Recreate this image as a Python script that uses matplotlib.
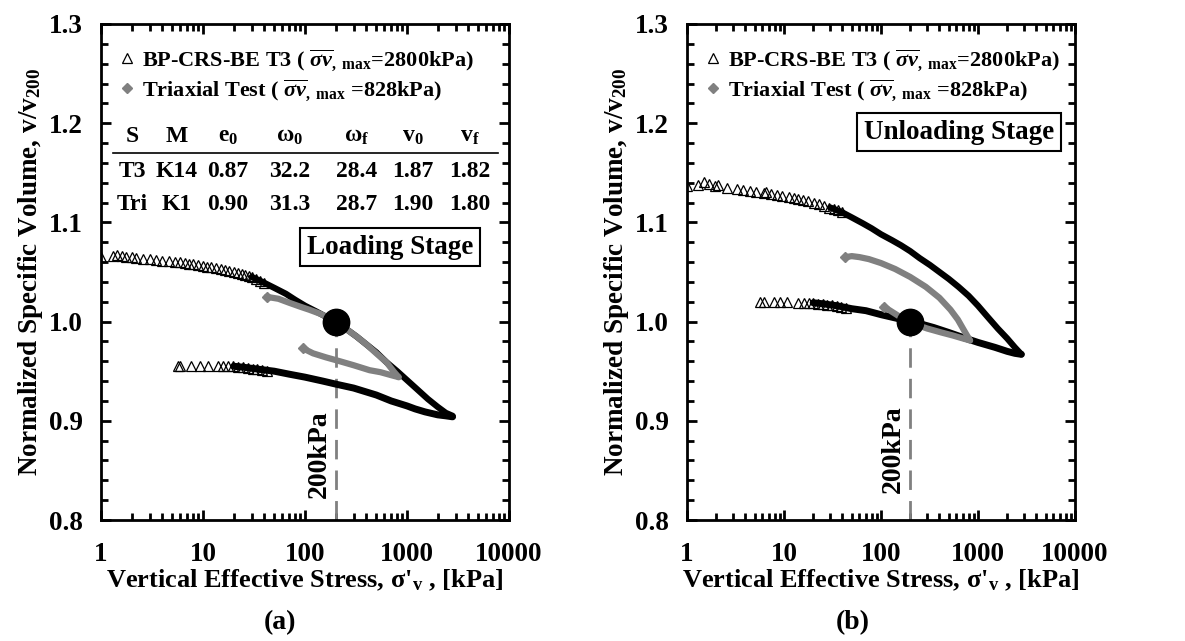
import matplotlib
matplotlib.use("Agg")
import matplotlib.pyplot as plt
from matplotlib.ticker import LogLocator, MultipleLocator, FixedLocator, NullFormatter

plt.rcParams['font.family'] = ['Liberation Serif', 'DejaVu Serif']
plt.rcParams['font.weight'] = 'bold'
plt.rcParams['mathtext.fontset'] = 'custom'
plt.rcParams['mathtext.rm'] = 'Liberation Serif:bold'
plt.rcParams['mathtext.bf'] = 'Liberation Serif:bold'
plt.rcParams['mathtext.it'] = 'Liberation Serif:italic'

# ---- (a) loading stage, normalised by v at 200 kPa on loading ----
a_crs_sparse_up_x = [1.0, 1.3, 1.45, 1.6, 1.75, 2.0, 2.2, 2.6, 3.0, 3.5, 4.0, 4.6, 5.3, 6.0,
                     6.6, 7.3, 8.0, 9.0, 10, 11, 12, 13.5, 15, 16.5, 18, 20, 22, 24, 26, 28, 30,
                     33, 36, 40]
a_crs_sparse_up_y = [1.065, 1.066, 1.067, 1.066, 1.065, 1.065, 1.064, 1.063, 1.063, 1.062, 1.061,
                     1.061, 1.060, 1.060, 1.059, 1.058, 1.058, 1.057, 1.056, 1.055, 1.055, 1.054,
                     1.053, 1.052, 1.051, 1.050, 1.049, 1.048, 1.047, 1.046, 1.045, 1.043,
                     1.041, 1.039]
a_crs_up_x = [30, 40, 50, 65, 80, 100, 130, 160, 200, 250, 320, 400, 500, 630, 800, 1000,
              1250, 1600, 2000, 2400, 2800]
a_crs_up_y = [1.045, 1.039, 1.034, 1.028, 1.022, 1.016, 1.010, 1.005, 1.000, 0.993, 0.985,
              0.977, 0.969, 0.959, 0.950, 0.941, 0.932, 0.922, 0.914, 0.908, 0.905]
a_crs_down_x = [2800, 2400, 2000, 1500, 1200, 1000, 700, 500, 300, 200, 150, 100, 70, 50, 35,
                25, 20]
a_crs_down_y = [0.904, 0.905, 0.906, 0.909, 0.912, 0.915, 0.920, 0.926, 0.933, 0.937, 0.940,
                0.944, 0.947, 0.950, 0.952, 0.954, 0.955]
a_crs_sparse_down_x = [5.7, 6.0, 7.7, 9.4, 11.3, 14.1, 15.7, 17.6, 19.7, 22, 24.7, 27.6, 30.9,
                       34, 38, 42]
a_crs_sparse_down_y = [0.955, 0.955, 0.955, 0.955, 0.955, 0.955, 0.955, 0.955, 0.955, 0.954,
                       0.954, 0.953, 0.952, 0.952, 0.951, 0.950]
a_tri_up_x = [42, 48, 55, 70, 90, 110, 140, 170, 200, 250, 320, 400, 500, 630, 750, 828]
a_tri_up_y = [1.025, 1.024, 1.023, 1.019, 1.015, 1.012, 1.008, 1.004, 1.000, 0.993, 0.985,
              0.977, 0.968, 0.959, 0.949, 0.944]
a_tri_down_x = [828, 700, 550, 430, 300, 220, 160, 120, 100, 96]
a_tri_down_y = [0.944, 0.946, 0.949, 0.951, 0.956, 0.960, 0.964, 0.968, 0.972, 0.973]

# ---- (b) unloading stage, normalised by v at 200 kPa on unloading ----
b_crs_sparse_up_x = [1.0, 1.3, 1.48, 1.67, 1.93, 2.1, 2.6, 3.3, 3.8, 4.5, 5.2, 6.2, 6.6, 7.4,
                     8.5, 9.5, 11.2, 12.6, 14.1, 15.8, 17.8, 20.4, 22.9, 25.7, 28.8, 32.4,
                     36, 40]
b_crs_sparse_up_y = [1.137, 1.138, 1.141, 1.139, 1.137, 1.138, 1.135, 1.134, 1.133, 1.132,
                     1.131, 1.130, 1.131, 1.129, 1.128, 1.127, 1.126, 1.125, 1.124, 1.123,
                     1.122, 1.120, 1.119, 1.117, 1.115, 1.114, 1.112, 1.110]
b_crs_up_x = [30, 40, 50, 65, 80, 100, 130, 160, 200, 250, 320, 400, 500, 630, 800, 1000,
              1250, 1600, 2000, 2400, 2800]
b_crs_up_y = [1.115, 1.110, 1.105, 1.099, 1.094, 1.088, 1.082, 1.077, 1.071, 1.064, 1.057,
              1.050, 1.043, 1.035, 1.026, 1.016, 1.005, 0.993, 0.983, 0.974, 0.967]
b_crs_down_x = [2800, 2400, 2000, 1500, 1000, 700, 500, 350, 250, 200, 150, 100, 70, 50, 35,
                25, 20]
b_crs_down_y = [0.967, 0.968, 0.970, 0.974, 0.979, 0.984, 0.989, 0.994, 0.998, 1.000, 1.003,
                1.007, 1.011, 1.013, 1.016, 1.018, 1.019]
b_crs_sparse_down_x = [5.7, 6.2, 7.8, 9.2, 10.7, 14.1, 15.9, 17.9, 20, 22.5, 25, 28, 31, 35,
                       39, 44]
b_crs_sparse_down_y = [1.020, 1.020, 1.020, 1.020, 1.020, 1.019, 1.019, 1.019, 1.019, 1.018,
                       1.018, 1.017, 1.017, 1.016, 1.015, 1.014]
b_tri_up_x = [43, 50, 60, 75, 100, 140, 200, 290, 400, 520, 620, 700, 760, 828]
b_tri_up_y = [1.065, 1.066, 1.065, 1.063, 1.059, 1.053, 1.045, 1.035, 1.024, 1.012, 1.002,
              0.993, 0.987, 0.981]
b_tri_down_x = [828, 700, 550, 420, 300, 200, 150, 120, 107]
b_tri_down_y = [0.981, 0.983, 0.986, 0.989, 0.993, 0.999, 1.006, 1.012, 1.015]

ref_stress = 200
ref_ratio = 1.0

table_cols = ['S', 'M', 'e$_{\\mathbf{0}}$', 'ω$_{\\mathbf{0}}$', 'ω$_{\\mathbf{f}}$',
              'v$_{\\mathbf{0}}$', 'v$_{\\mathbf{f}}$']
table_rows = [['T3', 'K14', '0.87', '32.2', '28.4', '1.87', '1.82'],
              ['Tri', 'K1', '0.90', '31.3', '28.7', '1.90', '1.80']]

crs_label = r'BP-CRS-BE T3 ( $\overline{\sigma v}_{\mathbf{,\ max}}$=2800kPa)'
tri_label = r'Triaxial Test ( $\overline{\sigma v}_{\mathbf{,\ max}}$ =828kPa)'

gray = '#808080'


def draw_panel(ax, d, stage, letter):
    ax.plot(d['up_x'], d['up_y'], color='black', lw=4.5, solid_capstyle='round', zorder=3)
    ax.plot(d['dn_x'], d['dn_y'], color='black', lw=5, solid_capstyle='round', zorder=3)
    ax.plot(d['sup_x'], d['sup_y'], ls='none', marker='^', ms=6.5, mfc='none', mec='black',
            mew=0.9, label=crs_label, zorder=3)
    ax.plot(d['sdn_x'], d['sdn_y'], ls='none', marker='^', ms=6.5, mfc='none', mec='black',
            mew=0.9, zorder=3)
    ax.plot(d['tu_x'], d['tu_y'], color=gray, lw=4.5, solid_capstyle='round', zorder=4)
    ax.plot(d['td_x'], d['td_y'], color=gray, lw=4.5, solid_capstyle='round', zorder=4)
    ax.plot(d['tu_x'][0], d['tu_y'][0], ls='none', marker='D', ms=5.5, color=gray,
            label=tri_label, zorder=4)
    ax.plot(d['td_x'][-1], d['td_y'][-1], ls='none', marker='D', ms=5.5, color=gray, zorder=4)

    ax.plot([ref_stress, ref_stress], [0.8, ref_ratio], color=gray, lw=2,
            ls=(0, (7, 4)), zorder=2)
    ax.plot(ref_stress, ref_ratio, 'o', color='black', ms=19, zorder=6)
    ax.text(ref_stress * 0.91, d['lab_y'], '200kPa', rotation=90, ha='right', va='center',
            fontsize=20, fontweight='bold')

    ax.set_xscale('log')
    ax.set_xlim(1, 10000)
    ax.set_ylim(0.8, 1.3)
    ax.xaxis.set_major_locator(FixedLocator([1, 10, 100, 1000, 10000]))
    ax.xaxis.set_minor_locator(LogLocator(base=10, subs=range(2, 10), numticks=20))
    ax.xaxis.set_minor_formatter(NullFormatter())
    ax.set_xticklabels(['1', '10', '100', '1000', '10000'])
    ax.yaxis.set_major_locator(MultipleLocator(0.1))
    ax.yaxis.set_minor_locator(MultipleLocator(0.02))
    ax.yaxis.set_major_formatter(plt.FuncFormatter(lambda v, p: f'{v:.1f}'))
    ax.tick_params(which='both', direction='in', top=True, right=True, width=2)
    ax.tick_params(which='major', length=7, labelsize=19.5)
    ax.tick_params(which='minor', length=5)
    ax.tick_params(axis='x', which='major', pad=16)
    ax.tick_params(axis='y', which='major', pad=13)
    for s in ax.spines.values():
        s.set_linewidth(2)

    ax.set_xlabel("Vertical Effective Stress, σ'$_{\\mathbf{v}}$ , [kPa]", fontsize=19,
                  fontweight='bold', labelpad=0)
    ax.set_ylabel('Normalized Specific Volume, v/v$_{\\mathbf{200}}$', fontsize=19.5,
                  fontweight='bold', labelpad=3)
    ax.text(d['letter_x'], -0.206, letter, transform=ax.transAxes, ha='center', va='center',
            fontsize=20, fontweight='bold')

    ax.legend(loc='upper left', frameon=False, fontsize=16, handlelength=0.6,
              handletextpad=0.35, borderaxespad=0.3, labelspacing=0.2,
              bbox_to_anchor=(0.01, 0.985))

    ax.text(d['box_x'], d['box_y'], stage, transform=ax.transAxes, ha='center', va='center',
            fontsize=19.5, fontweight='bold',
            bbox=dict(boxstyle='square,pad=0.25', fc='white', ec='black', lw=1.5), zorder=7)


fig = plt.figure(figsize=(11.85, 6.41), dpi=100)
ax_a = fig.add_axes([101 / 1185, 121 / 641, 408 / 1185, 496 / 641])
ax_b = fig.add_axes([687 / 1185, 121 / 641, 388 / 1185, 496 / 641])

draw_panel(ax_a, dict(sup_x=a_crs_sparse_up_x, sup_y=a_crs_sparse_up_y,
                      up_x=a_crs_up_x, up_y=a_crs_up_y,
                      dn_x=a_crs_down_x, dn_y=a_crs_down_y,
                      sdn_x=a_crs_sparse_down_x, sdn_y=a_crs_sparse_down_y,
                      tu_x=a_tri_up_x, tu_y=a_tri_up_y,
                      td_x=a_tri_down_x, td_y=a_tri_down_y,
                      lab_y=0.866, letter_x=0.439, box_x=0.708, box_y=0.55),
           'Loading Stage', '(a)')
draw_panel(ax_b, dict(sup_x=b_crs_sparse_up_x, sup_y=b_crs_sparse_up_y,
                      up_x=b_crs_up_x, up_y=b_crs_up_y,
                      dn_x=b_crs_down_x, dn_y=b_crs_down_y,
                      sdn_x=b_crs_sparse_down_x, sdn_y=b_crs_sparse_down_y,
                      tu_x=b_tri_up_x, tu_y=b_tri_up_y,
                      td_x=b_tri_down_x, td_y=b_tri_down_y,
                      lab_y=0.871, letter_x=0.428, box_x=0.701, box_y=0.782),
           'Unloading Stage', '(b)')

# material table in panel (a)
col_x = [0.076, 0.186, 0.311, 0.463, 0.627, 0.765, 0.904]
for cx, name in zip(col_x, table_cols):
    ax_a.text(cx, 0.774, name, transform=ax_a.transAxes, ha='center', va='center',
              fontsize=17, fontweight='bold')
ax_a.plot([0.029, 0.973], [0.740, 0.740], transform=ax_a.transAxes, color='black', lw=1.2)
for ry, row in zip([0.702, 0.637], table_rows):
    for cx, val in zip(col_x, row):
        ax_a.text(cx, ry, val, transform=ax_a.transAxes, ha='center', va='center',
                  fontsize=17, fontweight='bold')

fig.savefig('out.png', dpi=100)
